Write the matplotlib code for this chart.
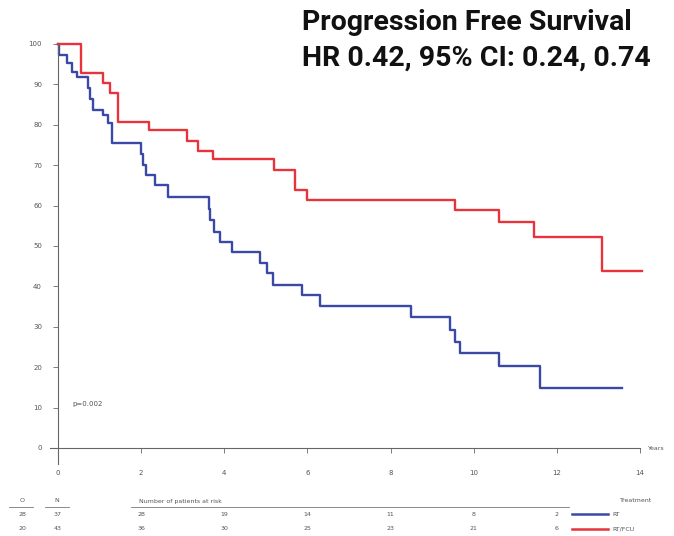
import matplotlib.pyplot as plt
from matplotlib.transforms import blended_transform_factory

# Kaplan-Meier steps: time of each drop (years) and survival (%) after it
rt_t = [0, 0.03, 0.22, 0.33, 0.45, 0.72, 0.78, 0.83, 1.08, 1.2, 1.3, 2.0, 2.05, 2.12,
        2.33, 2.64, 3.63, 3.66, 3.75, 3.9, 4.18, 4.86, 5.02, 5.17, 5.87, 6.3, 8.5,
        9.42, 9.55, 9.67, 10.6, 11.6, 13.56]
rt_s = [100, 97.3, 95.3, 93.0, 91.8, 89.0, 86.3, 83.7, 82.4, 80.4, 75.5, 72.8, 70.0, 67.6,
        65.1, 62.1, 59.2, 56.4, 53.5, 51.0, 48.5, 45.8, 43.3, 40.3, 37.9, 35.1, 32.4,
        29.2, 26.2, 23.5, 20.3, 14.9, 14.9]

combo_t = [0, 0.55, 1.08, 1.25, 1.44, 2.2, 3.1, 3.37, 3.73, 5.2, 5.7, 6.0, 9.54, 10.6,
           11.44, 13.08, 14.05]
combo_s = [100, 92.8, 90.3, 87.9, 80.7, 78.7, 76.0, 73.5, 71.5, 68.8, 63.9, 61.4, 59.0, 56.0,
           52.2, 43.8, 43.8]

risk_times = [0, 2, 4, 6, 8, 10, 12]
rt_risk = [37, 28, 19, 14, 11, 8, 2]
combo_risk = [43, 36, 30, 25, 23, 21, 6]
events = ['28', '20']
arm_names = ['RT', 'RT/FCU']

blue = '#3b49a6'
red = '#e8323c'
grey = '#555555'

W, H = 674, 536
fig = plt.figure(figsize=(W / 100, H / 100), dpi=100)
fig.patch.set_facecolor('white')

# axes placed so that x 0..14 spans px 58..640 and y 0..100 spans px 448..44
x0, x1 = 58, 640
y0, y100 = 448, 44
xmin, ymin = -0.2, -4.0
px_x = (x1 - x0) / 14.0
px_y = (y0 - y100) / 100.0
left = (x0 + xmin * px_x) / W
bottom = 1 - (y0 - ymin * px_y) / H
ax = fig.add_axes([left, bottom, (x1 - x0 - xmin * px_x) / W, (y0 - y100 - ymin * px_y) / H])
ax.set_xlim(xmin, 14)
ax.set_ylim(ymin, 100)

ax.plot(rt_t, rt_s, drawstyle='steps-post', color=blue, lw=1.7, clip_on=False)
ax.plot(combo_t, combo_s, drawstyle='steps-post', color=red, lw=1.7, clip_on=False)

for s in ['top', 'right']:
    ax.spines[s].set_visible(False)
ax.spines['left'].set_position(('data', 0))
ax.spines['bottom'].set_position(('data', 0))
for s in ['left', 'bottom']:
    ax.spines[s].set_color('#666666')
    ax.spines[s].set_linewidth(0.8)

ax.set_yticks(range(0, 101, 10))
ax.set_xticks(range(0, 15, 2))
ax.tick_params(axis='y', direction='out', length=3.5, width=0.6, colors='#666666',
               labelsize=5, labelcolor=grey, pad=8)
ax.tick_params(axis='x', direction='out', length=3.5, width=0.6, colors='#666666',
               labelsize=5, labelcolor=grey, pad=12)

ax.text(14.2, 0, 'Years', fontsize=4.5, color=grey, va='center', ha='left', clip_on=False)
ax.text(0.35, 11, 'p=0.002', fontsize=5, color=grey, va='center', ha='left')

# title block
title_font = ['Roboto', 'DejaVu Sans']
fig.text(302 / W, 1 - 23 / H, 'Progression Free Survival', fontsize=20.5, fontweight='bold',
         family=title_font, color='#111111', va='center', ha='left')
fig.text(302 / W, 1 - 58 / H, 'HR 0.42, 95% CI: 0.24, 0.74', fontsize=20.5, fontweight='bold',
         family=title_font, color='#111111', va='center', ha='left')

# numbers at risk table below the axis
tr = blended_transform_factory(ax.transData, fig.transFigure)
fy = lambda py: 1 - py / H
ax.text(1.95, fy(501), 'Number of patients at risk', transform=tr, fontsize=4.5,
        color=grey, va='center', ha='left', clip_on=False)
ax.plot([1.75, 12.3], [fy(507), fy(507)], transform=tr, color='#777777', lw=0.6, clip_on=False)
for r, (vals, py) in enumerate([(rt_risk, 514), (combo_risk, 529)]):
    for t, v in zip(risk_times, vals):
        ax.text(t, fy(py), str(v), transform=tr, fontsize=4.5, color=grey,
                va='center', ha='center', clip_on=False)
    fig.text(22 / W, fy(py), events[r], fontsize=4.5, color=grey, va='center', ha='center')

fig.text(22 / W, fy(501), 'O', fontsize=4.5, color=grey, va='center', ha='center')
fig.text(57 / W, fy(501), 'N', fontsize=4.5, color=grey, va='center', ha='center')
fig.lines.append(plt.Line2D([9 / W, 33 / W], [fy(507), fy(507)], transform=fig.transFigure,
                            color='#777777', lw=0.6))
fig.lines.append(plt.Line2D([45 / W, 69 / W], [fy(507), fy(507)], transform=fig.transFigure,
                            color='#777777', lw=0.6))

# treatment key
fig.text(620 / W, fy(500), 'Treatment', fontsize=4.5, color=grey, va='center', ha='left')
for name, col, py in [(arm_names[0], blue, 514), (arm_names[1], red, 529)]:
    fig.lines.append(plt.Line2D([572 / W, 608 / W], [fy(py), fy(py)],
                                transform=fig.transFigure, color=col, lw=1.8))
    fig.text(612 / W, fy(py), name, fontsize=4.5, color=grey, va='center', ha='left')

fig.savefig('out.png', dpi=100, facecolor='white')
